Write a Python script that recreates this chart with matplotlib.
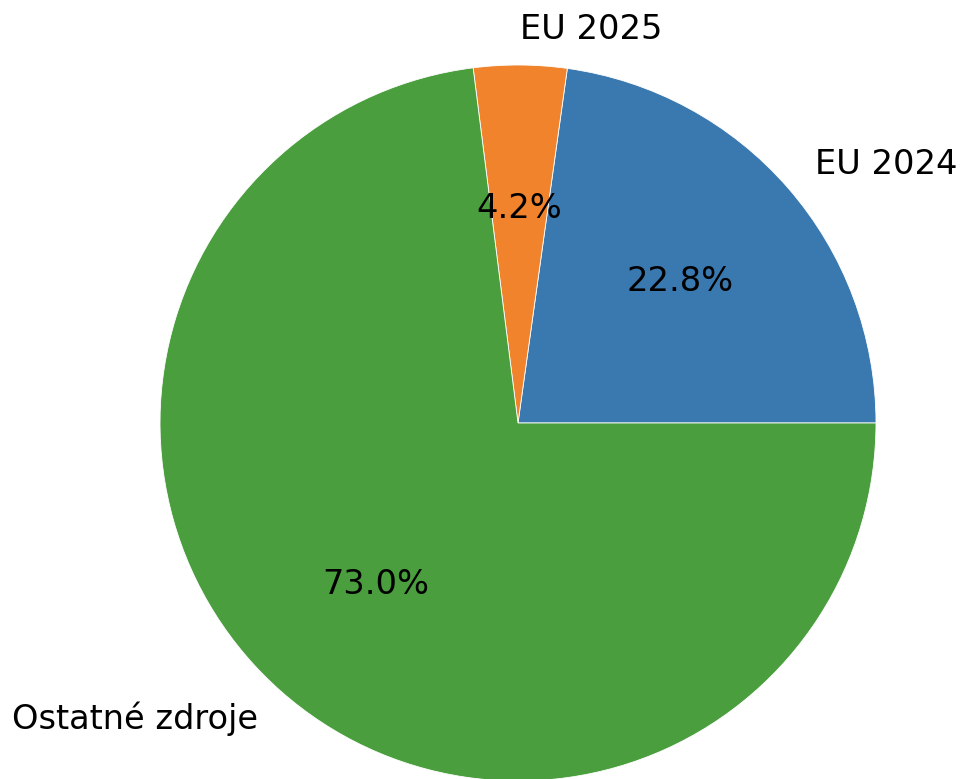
import matplotlib
matplotlib.use("Agg")
import matplotlib.pyplot as plt

labels = ["EU 2024", "EU 2025", "Ostatné zdroje"]
values = [22.8, 4.2, 73.0]
colors = ["#3a78b0", "#f0832b", "#4a9e3e"]

fig = plt.figure(figsize=(9.62, 7.79), dpi=100)
W, H = 962, 779
cx, cy, r = 518, 779 - 423, 358
side = 2.5 * r
ax = fig.add_axes([(cx - side / 2) / W, (cy - side / 2) / H, side / W, side / H])
ax.pie(values, labels=labels, colors=colors, autopct="%1.1f%%",
       startangle=0, wedgeprops=dict(edgecolor="white", linewidth=0.6),
       textprops=dict(fontsize=24.2))
ax.set_aspect("equal")
fig.savefig("out.png", dpi=100)
